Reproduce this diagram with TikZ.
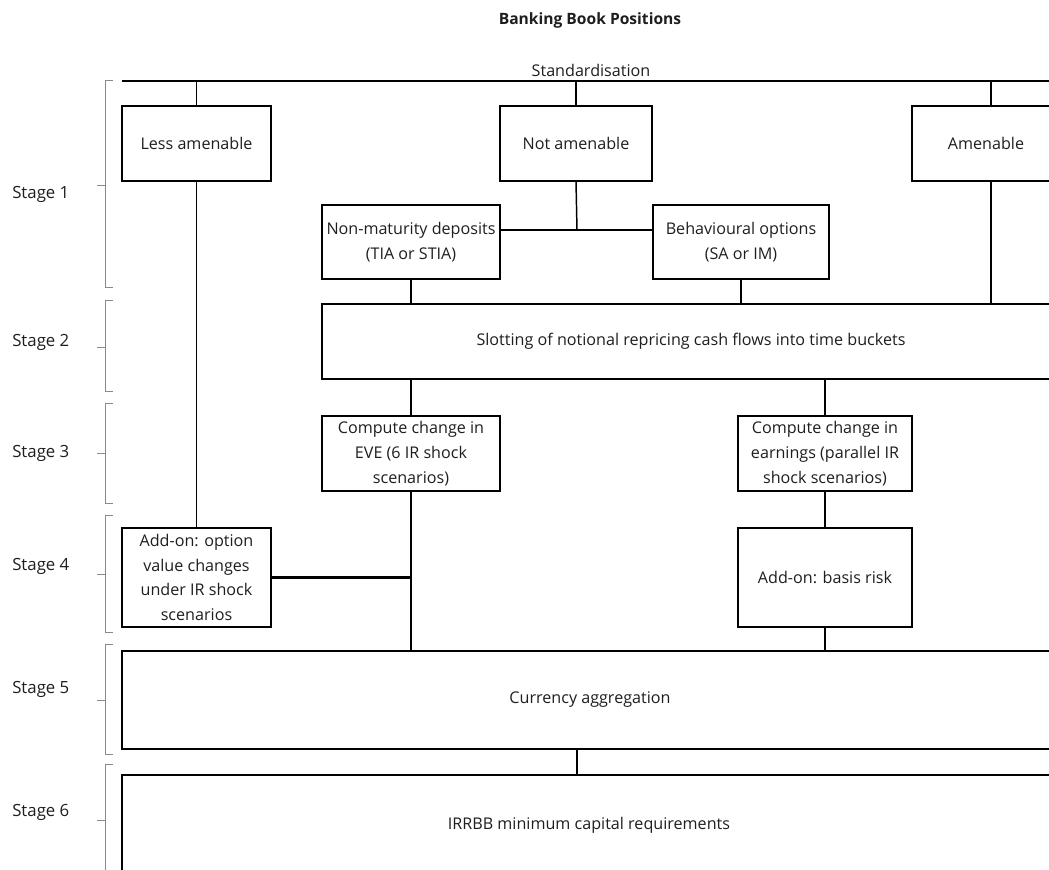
\documentclass[tikz,border=0pt]{standalone}
\usepackage{fontspec}
\setmainfont{Open Sans}
\definecolor{txt}{HTML}{1E1E1E}
\definecolor{brk}{HTML}{8A8A8A}
\begin{document}
\begin{tikzpicture}[x=0.75pt,y=-0.75pt,
  every node/.style={text=txt, font=\fontsize{12.1}{18.5}\selectfont, inner sep=0pt},
  box/.style={draw=black, line width=1.1pt, align=center},
  heavy/.style={box, line width=1.7pt},
  conn/.style={draw=black, line width=1.1pt},
  thickconn/.style={draw=black, line width=1.9pt},
  bracket/.style={draw=brk, line width=0.7pt},
  stagelbl/.style={anchor=west, font=\fontsize{12.6}{15}\selectfont}]
\useasboundingbox (0,0) rectangle (1049,870);
\clip (0,0) rectangle (1049,870);

% titles
\node[font=\bfseries\fontsize{11.7}{14}\selectfont] (title) at (590,20) {Banking Book Positions};
\node (std) at (591,70) {Standardisation};

% stage 1
\node[box, minimum width=111.75pt, minimum height=56.25pt] (less) at (196.5,143.5) {Less amenable};
\node[box, minimum width=114pt, minimum height=56.25pt] (notam) at (576,143.5) {Not amenable};
\node[box, minimum width=111pt, minimum height=56.25pt] (amen) at (986,143.5) {Amenable};
\node[box, minimum width=133.5pt, minimum height=55.5pt] (nmd) at (411,242) {Non-maturity deposits\\(TIA or STIA)};
\node[box, minimum width=132pt, minimum height=55.5pt] (beh) at (741,242) {Behavioural options\\(SA or IM)};

% stage 2
\node[box, minimum width=553.5pt, minimum height=56.25pt] (slot) at (691,341.5) {Slotting of notional repricing cash flows into time buckets};

% stage 3
\node[box, minimum width=133.5pt, minimum height=56.25pt] (eve) at (411,453.5) {Compute change in\\EVE (6 IR shock\\scenarios)};
\node[box, minimum width=130.5pt, minimum height=56.25pt] (earn) at (825,453.5) {Compute change in\\earnings (parallel IR\\shock scenarios)};

% stage 4
\node[heavy, minimum width=111.75pt, minimum height=74.25pt] (addopt) at (196.5,577.5) {Add-on: option\\value changes\\under IR shock\\scenarios};
\node[heavy, minimum width=130.5pt, minimum height=74.25pt] (basis) at (825,577.5) {Add-on: basis risk};

% stage 5, 6
\node[heavy, minimum width=702pt, minimum height=73.5pt] (cur) at (590,700) {Currency aggregation};
\node[heavy, minimum width=700.5pt, minimum height=75pt] (irr) at (589,825) {IRRBB minimum capital requirements};

% stage labels
\node[stagelbl] (s1) at (12,194) {Stage 1};
\node[stagelbl] (s2) at (12,342) {Stage 2};
\node[stagelbl] (s3) at (12,453) {Stage 3};
\node[stagelbl] (s4) at (12,566) {Stage 4};
\node[stagelbl] (s5) at (12,689) {Stage 5};
\node[stagelbl] (s6) at (12,812) {Stage 6};

% brackets
\draw[bracket] (113,80) -- (105,80) -- (105,287) -- (113,287) (97,185) -- (105,185);
\draw[bracket] (113,300) -- (105,300) -- (105,391) -- (113,391) (97,347) -- (105,347);
\draw[bracket] (113,403) -- (105,403) -- (105,503) -- (113,503) (97,453) -- (105,453);
\draw[bracket] (113,515) -- (105,515) -- (105,632) -- (113,632) (97,574) -- (105,574);
\draw[bracket] (113,644) -- (105,644) -- (105,754) -- (113,754) (97,700) -- (105,700);
\draw[bracket] (113,764) -- (105,764) -- (105,880) (97,820) -- (105,820);

% connectors
\coordinate (tl) at (122,81);
\coordinate (tr) at (1060,81);
\coordinate (ja) at (991,81);
\coordinate (jn) at (577,230);
\coordinate (jc) at (577,749);
\draw[conn] (tl) -- (tr);
\draw[conn] (tl -| less.north) -- (less.north);
\draw[conn] (tl -| notam.north) -- (notam.north);
\draw[thickconn] (ja) -- (ja |- amen.north);
\draw[thickconn] (ja |- amen.south) -- (ja |- slot.north);
\draw[conn] (notam.south) -- (jn);
\draw[conn] (nmd.east |- jn) -- (beh.west |- jn);
\draw[conn] (nmd.south) -- (nmd.south |- slot.north);
\draw[conn] (beh.south) -- (beh.south |- slot.north);
\draw[conn] (eve.north |- slot.south) -- (eve.north);
\draw[conn] (earn.north |- slot.south) -- (earn.north);
\draw[conn] (less.south) -- (addopt.north);
\draw[conn] (eve.south) -- (eve.south |- cur.north);
\draw[thickconn] (addopt.east) -- (addopt.east -| eve.south);
\draw[conn] (earn.south) -- (basis.north);
\draw[conn] (basis.south) -- (basis.south |- cur.north);
\draw[conn] (jc) -- (jc |- irr.north);
\end{tikzpicture}
\end{document}
